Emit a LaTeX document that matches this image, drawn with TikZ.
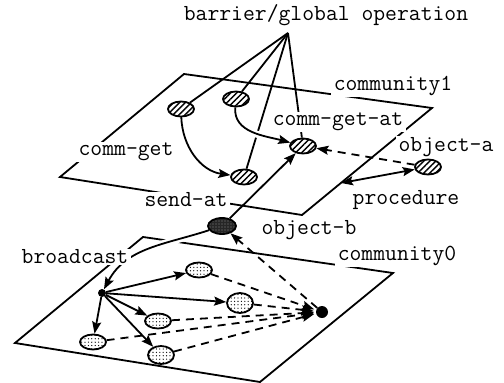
\documentclass[tikz,border=0pt]{standalone}
\usepackage{tikz}
\usetikzlibrary{shapes,arrows.meta,patterns.meta,positioning,calc}
\tikzstyle{plane} = [line width=1.8pt, line join=miter]
\tikzstyle{hatched} = [ellipse, draw=black, line width=1.8pt, minimum width=26pt, minimum height=15pt, inner sep=0pt, preaction={fill=white}, pattern={Lines[angle=45,distance=4.2pt,line width=1.4pt]}]
\tikzstyle{spotted} = [ellipse, draw=black, line width=1.8pt, minimum width=26pt, minimum height=15pt, inner sep=0pt, preaction={fill=white}, pattern={Dots[radius=0.65pt,distance=3.4pt]}]
\tikzstyle{darkobj} = [ellipse, draw=black, line width=1.8pt, minimum width=28pt, minimum height=16pt, inner sep=0pt, preaction={fill=black!85}, pattern={Dots[radius=0.6pt,distance=3pt]}, pattern color=black!45]
\tikzstyle{blob} = [circle, fill=black, inner sep=0pt]
\tikzstyle{lbl} = [font=\ttfamily\fontsize{23}{25}\selectfont, fill=white, inner xsep=3pt, inner ysep=1pt]
\tikzstyle{line} = [line width=1.8pt]
\tikzstyle{arrow} = [line width=1.8pt, -{Stealth[length=12pt,width=9pt,inset=2pt]}]
\tikzstyle{darrow} = [arrow, dash pattern=on 8pt off 6pt]
\tikzstyle{halo} = [preaction={draw=white, line width=7pt, -, shorten >=7pt, shorten <=5pt}]

\begin{document}
\begin{tikzpicture}[x=1pt,y=-1pt]
  \useasboundingbox (0,0) rectangle (504,383);
  % the two planes
  \draw [plane] (184,74) -- (432,108) -- (302,215) -- (60,177) -- cycle;
  \draw [plane] (143,237) -- (393,273) -- (260,382) -- (15,343) -- cycle;

  % community1
  \coordinate (apex) at (288,33);
  \node (cg1) [hatched] at (181,109) {};
  \node (cg2) [hatched] at (236,99) {};
  \node (cga) [hatched] at (303,146) {};
  \node (sat) [hatched] at (244,177) {};
  \node (obja) [hatched] at (428,167) {};
  \coordinate (pedge) at (341,183);

  % community0
  \node (objb) [darkobj] at (222,226) {};
  \node (bc) [blob, minimum size=8pt] at (102,293) {};
  \node (m1) [spotted] at (199,270) {};
  \node (m2) [spotted, minimum height=20pt] at (240,303) {};
  \node (m3) [spotted] at (158,321) {};
  \node (m4) [spotted] at (93,342) {};
  \node (m5) [spotted, minimum height=18pt] at (161,355) {};
  \node (sink) [blob, minimum size=12pt] at (322,312) {};

  \draw [line] (apex) -- (cg1);
  \draw [line] (apex) -- (cg2);
  \draw [line] (apex) -- (sat);
  \draw [line] (apex) -- (cga);

  \draw [arrow] (cg1) to[out=-88, in=172] (sat);
  \draw [arrow, halo] (cg2) to[out=-95, in=165] (cga);
  \draw [arrow] (objb) -- (cga);
  \draw [darrow] (obja) -- (cga);
  \draw [line, {Stealth[length=12pt,width=9pt,inset=2pt]}-{Stealth[length=12pt,width=9pt,inset=2pt]}] (pedge) -- (obja);

  \draw [arrow, halo] (objb) to[out=198, in=62] (bc);
  \draw [darrow] (sink) -- (objb);
  \foreach \i in {1,...,5}
    \draw [arrow] (bc) -- (m\i);
  \foreach \i in {1,...,5}
    \draw [darrow, shorten >=2pt] (m\i) -- (sink);

  % labels
  \node (lbar) [lbl] at (326,15) {barrier/global operation};
  \node (lc1) [lbl] at (393,86) {community1};
  \node (lcga) [lbl] at (338,122) {comm-get-at};
  \node (lcg) [lbl] at (126,152) {comm-get};
  \node (loa) [lbl] at (446,147) {object-a};
  \node (lproc) [lbl] at (406,200) {procedure};
  \node (lsend) [lbl] at (186,200) {send-at};
  \node (lob) [lbl] at (309,230) {object-b};
  \node (lbc) [lbl] at (75,257) {broadcast};
  \node (lc0) [lbl] at (397,256) {community0};
\end{tikzpicture}
\end{document}
